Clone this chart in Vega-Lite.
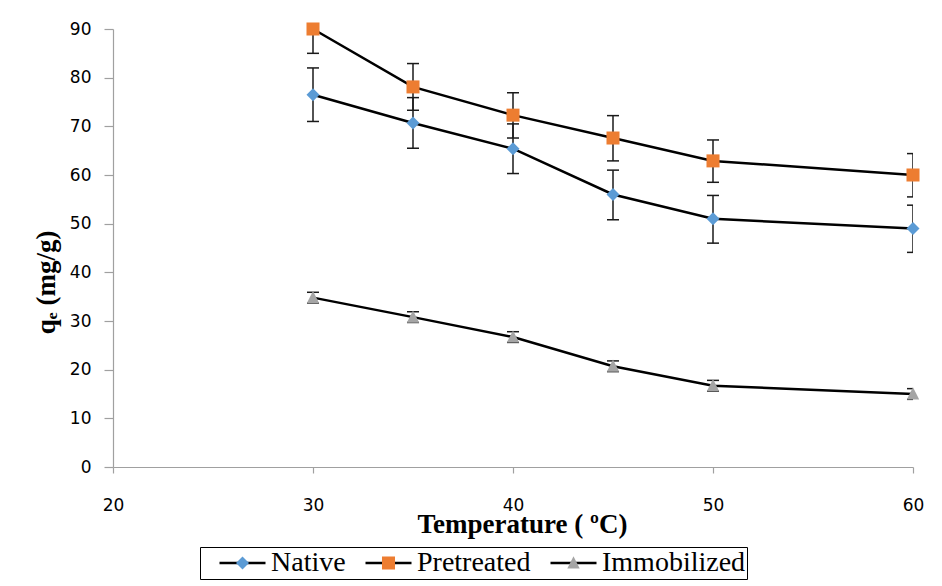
{
  "$schema": "https://vega.github.io/schema/vega-lite/v6.json",
  "autosize": "none",
  "width": 800,
  "height": 438,
  "padding": {"left": 113, "top": 29, "right": 29, "bottom": 119},
  "background": "white",
  "data": {
    "values": [
      {"t": 30, "series": "Native", "q": 76.5, "lo": 71.0, "hi": 82.0},
      {"t": 35, "series": "Native", "q": 70.7, "lo": 65.5, "hi": 75.9},
      {"t": 40, "series": "Native", "q": 65.4, "lo": 60.3, "hi": 70.5},
      {"t": 45, "series": "Native", "q": 56.0, "lo": 50.8, "hi": 61.0},
      {"t": 50, "series": "Native", "q": 51.0, "lo": 46.0, "hi": 55.8},
      {"t": 60, "series": "Native", "q": 49.0, "lo": 44.1, "hi": 53.8},
      {"t": 30, "series": "Pretreated", "q": 90.0, "lo": 85.0, "hi": 95.0},
      {"t": 35, "series": "Pretreated", "q": 78.1, "lo": 73.3, "hi": 82.9},
      {"t": 40, "series": "Pretreated", "q": 72.3, "lo": 67.6, "hi": 76.9},
      {"t": 45, "series": "Pretreated", "q": 67.6, "lo": 62.9, "hi": 72.2},
      {"t": 50, "series": "Pretreated", "q": 62.9, "lo": 58.5, "hi": 67.2},
      {"t": 60, "series": "Pretreated", "q": 60.0, "lo": 55.5, "hi": 64.4},
      {"t": 30, "series": "Immobilized", "q": 34.8, "lo": 33.7, "hi": 35.9},
      {"t": 35, "series": "Immobilized", "q": 30.8, "lo": 29.7, "hi": 31.9},
      {"t": 40, "series": "Immobilized", "q": 26.7, "lo": 25.6, "hi": 27.8},
      {"t": 45, "series": "Immobilized", "q": 20.7, "lo": 19.6, "hi": 21.8},
      {"t": 50, "series": "Immobilized", "q": 16.7, "lo": 15.6, "hi": 17.8},
      {"t": 60, "series": "Immobilized", "q": 15.0, "lo": 13.9, "hi": 16.1}
    ]
  },
  "encoding": {
    "x": {
      "field": "t",
      "type": "quantitative",
      "scale": {"domain": [20, 60], "nice": false, "zero": false},
      "axis": {
        "values": [20, 30, 40, 50, 60],
        "tickSize": 6,
        "labelPadding": 24,
        "labelFlush": false,
        "labelFont": "DejaVu Sans",
        "labelFontSize": 17,
        "labelColor": "black",
        "title": "Temperature ( ºC)",
        "titleFont": "Liberation Serif",
        "titleFontSize": 27,
        "titleFontWeight": "bold",
        "titleColor": "black",
        "titleX": 409,
        "titleY": 65,
        "titleAlign": "center",
        "titleBaseline": "alphabetic"
      }
    }
  },
  "layer": [
    {
      "mark": {"type": "rule", "color": "#1a1a1a", "strokeWidth": 1.5, "clip": true},
      "encoding": {
        "y": {
          "field": "lo",
          "type": "quantitative",
          "scale": {"domain": [0, 90], "nice": false},
          "axis": {
            "values": [0, 10, 20, 30, 40, 50, 60, 70, 80, 90],
            "tickSize": 9,
            "labelPadding": 13,
            "labelFont": "DejaVu Sans",
            "labelFontSize": 17,
            "labelColor": "black",
            "title": "qₑ (mg/g)",
            "titleFont": "Liberation Serif",
            "titleFontSize": 27,
            "titleFontWeight": "bold",
            "titleColor": "black",
            "titleAngle": -90,
            "titleX": -67,
            "titleY": 253,
            "titleAlign": "center",
            "titleBaseline": "middle"
          }
        },
        "y2": {"field": "hi"}
      }
    },
    {
      "mark": {"type": "tick", "orient": "horizontal", "color": "#1a1a1a", "size": 12, "thickness": 1.5, "opacity": 1, "clip": true},
      "encoding": {"y": {"field": "lo", "type": "quantitative"}}
    },
    {
      "mark": {"type": "tick", "orient": "horizontal", "color": "#1a1a1a", "size": 12, "thickness": 1.5, "opacity": 1, "clip": true},
      "encoding": {"y": {"field": "hi", "type": "quantitative"}}
    },
    {
      "mark": {"type": "line", "strokeWidth": 2.5},
      "encoding": {
        "y": {"field": "q", "type": "quantitative"},
        "color": {
          "field": "series",
          "type": "nominal",
          "scale": {"domain": ["Native", "Pretreated", "Immobilized"], "range": ["black", "black", "black"]},
          "legend": {
            "title": null,
            "orient": "none",
            "direction": "horizontal",
            "legendX": 87,
            "legendY": 518,
            "padding": 1,
            "clipHeight": 30,
            "strokeColor": "black",
            "fillColor": "white",
            "symbolType": "M-1.8,0M-1,0L1,0",
            "symbolSize": 2116,
            "symbolOffset": 17,
            "symbolStrokeWidth": 2.5,
            "symbolStrokeColor": "black",
            "labelFont": "Liberation Serif",
            "labelFontSize": 28,
            "labelColor": "black",
            "labelOffset": 4,
            "labelLimit": 400,
            "columnPadding": 1
          }
        }
      }
    },
    {
      "mark": {"type": "point", "filled": true, "opacity": 1, "size": 2116},
      "encoding": {
        "y": {"field": "q", "type": "quantitative"},
        "fill": {
          "field": "series",
          "type": "nominal",
          "sort": null,
          "scale": {"range": ["#5B9BD5", "#ED7D31", "#A5A5A5"]},
          "legend": {
            "title": null,
            "orient": "none",
            "direction": "horizontal",
            "legendX": 87,
            "legendY": 518,
            "padding": 1,
            "clipHeight": 30,
            "symbolSize": 2116,
            "symbolOffset": 17,
            "symbolStrokeWidth": 2.5,
            "symbolStrokeColor": "transparent",
            "symbolOpacity": 1,
            "labelFont": "Liberation Serif",
            "labelFontSize": 28,
            "labelColor": "transparent",
            "labelOffset": 4,
            "labelLimit": 400,
            "columnPadding": 1
          }
        },
        "shape": {
          "field": "series",
          "type": "nominal",
          "sort": null,
          "scale": {
            "range": [
              "M-1.8,0M1,0M0,-0.283L0.283,0L0,0.283L-0.283,0Z",
              "M-1.8,0M1,0M-0.283,-0.283L0.283,-0.283L0.283,0.283L-0.283,0.283Z",
              "M-1.8,0M1,0M0,-0.29L0.27,0.24L-0.27,0.24Z"
            ]
          }
        }
      }
    }
  ],
  "config": {
    "view": {"stroke": null},
    "axis": {"grid": false, "domainColor": "#a0a0a0", "tickColor": "#a0a0a0", "domainWidth": 1.2, "tickWidth": 1.2}
  }
}
